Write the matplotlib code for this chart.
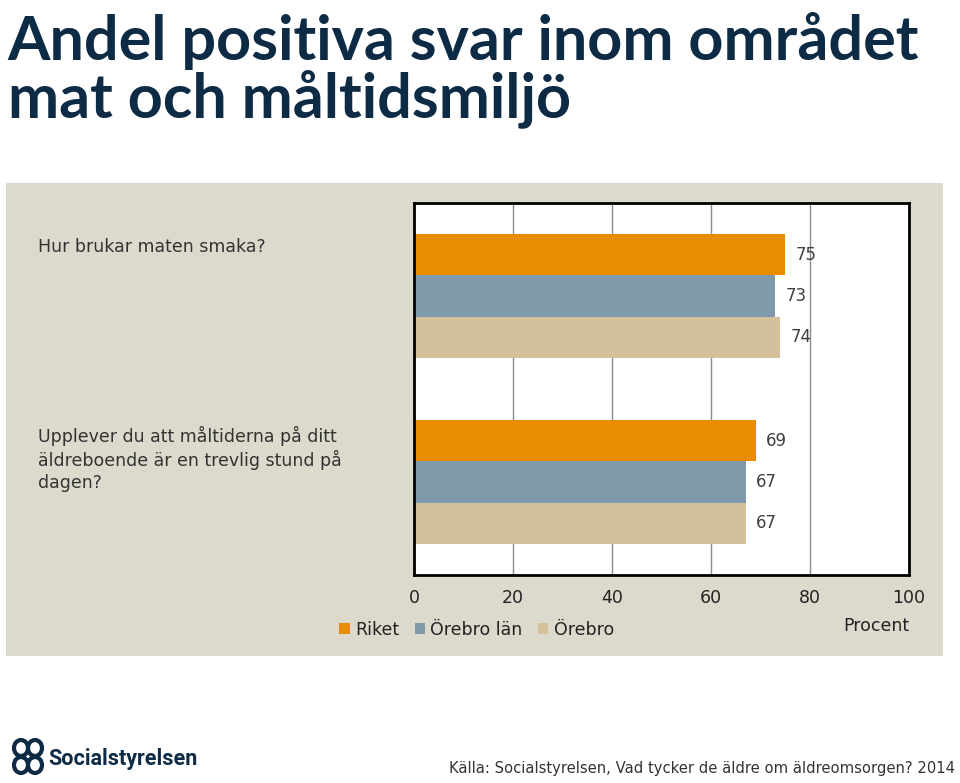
import numpy as np
import matplotlib.pyplot as plt
from matplotlib.patches import Ellipse

# Data
questions = ["Hur brukar maten smaka?",
             "Upplever du att måltiderna på ditt\näldreboende är en trevlig stund på\ndagen?"]
series = ["Riket", "Örebro län", "Örebro"]
riket = [75, 69]
orebro_lan = [73, 67]
orebro = [74, 67]
colors = ["#EA8C00", "#7F9AAB", "#D4C09A"]
xticks = [0, 20, 40, 60, 80, 100]

fig = plt.figure(figsize=(9.6, 7.83), dpi=100)
fig.patch.set_facecolor("white")

# grey panel behind the chart
bg = fig.add_axes([0.00625, 0.1622, 0.976, 0.604], zorder=0)
bg.set_facecolor("#DCD9CD")
bg.set_xticks([])
bg.set_yticks([])
for s in bg.spines.values():
    s.set_visible(False)

fig.text(0.008, 0.985, "Andel positiva svar inom området\nmat och måltidsmiljö",
         fontsize=44, fontweight="bold", color="#0D2B45", va="top", ha="left",
         family="Lato", linespacing=0.98)

ax = fig.add_axes([0.43125, 0.2656, 0.515625, 0.4751], zorder=2)
ax.set_facecolor("white")

h = 0.222
y = np.arange(len(questions))
vals = [riket, orebro_lan, orebro]
for i, (name, v, c) in enumerate(zip(series, vals, colors)):
    pos = y - h + i * h
    ax.barh(pos, v, height=h, color=c, label=name, zorder=2)
    for p, val in zip(pos, v):
        ax.text(val + 2, p, str(val), va="center", ha="left", fontsize=12,
                color="#404040")

ax.set_xlim(0, 100)
ax.set_ylim(1.5, -0.5)
ax.set_xticks(xticks)
ax.set_yticks([])
ax.tick_params(axis="x", length=0, pad=10, labelsize=12.5, labelcolor="#222222")
ax.grid(axis="x", color="#8C8C8C", linewidth=1, zorder=1)
for s in ax.spines.values():
    s.set_color("black")
    s.set_linewidth(2)

# question labels on the left
fig.text(0.0395, (783 - 247) / 783, questions[0], fontsize=12.5, color="#333333",
         va="center", ha="left")
fig.text(0.0395, (783 - 426) / 783, questions[1], fontsize=12.5, color="#333333",
         va="top", ha="left", linespacing=1.25)

leg = fig.legend(loc="center left", bbox_to_anchor=(0.337, (783 - 630) / 783), ncol=3,
                 frameon=False, fontsize=12.5, handlelength=0.6, handleheight=0.6,
                 handletextpad=0.3, columnspacing=0.9, labelcolor="#222222")
fig.text(909 / 960, (783 - 626) / 783, "Procent", fontsize=12.5, color="#222222",
         ha="right", va="center")

# footer: simple logo mark + name
logo = fig.add_axes([10 / 960, (783 - 776) / 783, 36 / 960, 38 / 783])
logo.set_xlim(0, 36)
logo.set_ylim(0, 38)
logo.axis("off")
for cx, cy, w, hh in [(11, 28, 14, 16), (25, 28, 14, 16), (11, 11, 14, 16), (25, 11, 14, 16)]:
    logo.add_patch(Ellipse((cx, cy), w, hh, fill=False, edgecolor="#0D2B45", linewidth=3))
fig.text(48 / 960, (783 - 759) / 783, "Socialstyrelsen", fontsize=15.5, fontweight="bold",
         color="#0D2B45", ha="left", va="center", family="Roboto")
fig.text(955 / 960, (783 - 769) / 783,
         "Källa: Socialstyrelsen, Vad tycker de äldre om äldreomsorgen? 2014",
         fontsize=10.6, color="#333333", ha="right", va="center")

fig.savefig("out.png", dpi=100)
